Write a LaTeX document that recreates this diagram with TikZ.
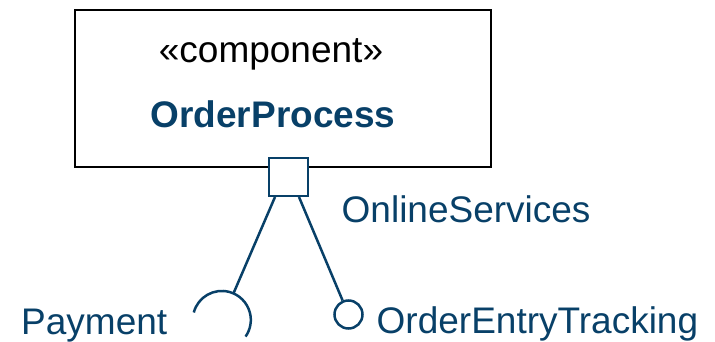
\documentclass[tikz,border=0pt]{standalone}
\usepackage{fontspec}
\setmainfont{Liberation Sans}
\usepackage{tikz}
\usetikzlibrary{shapes,arrows}
\definecolor{umlblue}{RGB}{8,64,104}

\begin{document}
\begin{tikzpicture}[x=1pt,y=1pt,yscale=-1,xscale=1,
  txt/.style={inner sep=0pt,font=\fontsize{37}{40}\selectfont},
  comp/.style={draw=black,line width=1.3pt,minimum width=416pt,minimum height=157pt,inner sep=0pt},
  portbox/.style={draw=umlblue,fill=white,line width=2.5pt,minimum width=39pt,minimum height=38pt,inner sep=0pt},
  ball/.style={draw=umlblue,circle,line width=2.5pt,minimum size=28pt,inner sep=0pt},
  sock/.style={circle,minimum size=58pt,inner sep=0pt},
  iface/.style={draw=umlblue,line width=2.5pt}]
\useasboundingbox (0,0) rectangle (715,342);

%Shape: Rectangle [component]
\node [comp] (order) at (283,88.5) {};
% Text Node
\node [txt,anchor=base] (stereo) at (271,63) {«component»};
% Text Node
\node [txt,anchor=base,text=umlblue,font=\fontsize{37}{40}\selectfont\bfseries] (ordername) at (273,128) {OrderProcess};

%Shape: Square [port]
\node [portbox] (port) at (288.5,177) {};
\coordinate (portL) at (275,197);
\coordinate (portR) at (299,197);

%Shape: Circle [provided]
\node [ball] (tracking) at (348.5,314.5) {};
%Arc [required]
\node [sock] (payment) at (222,320) {};
\draw [iface] (payment.165) arc [start angle=-165, end angle=35, radius=29];

%Straight Lines
\draw [iface] (portL) -- (payment);
%Straight Lines
\draw [iface] (portR) -- (tracking);

% Text Node
\node [txt,anchor=base west,text=umlblue] (portlabel) at (341.5,222) {OnlineServices};
% Text Node
\node [txt,anchor=base west,text=umlblue] (paylabel) at (21,334) {Payment};
% Text Node
\node [txt,anchor=base west,text=umlblue] (tracklabel) at (376.5,333) {OrderEntryTracking};

\end{tikzpicture}
\end{document}
